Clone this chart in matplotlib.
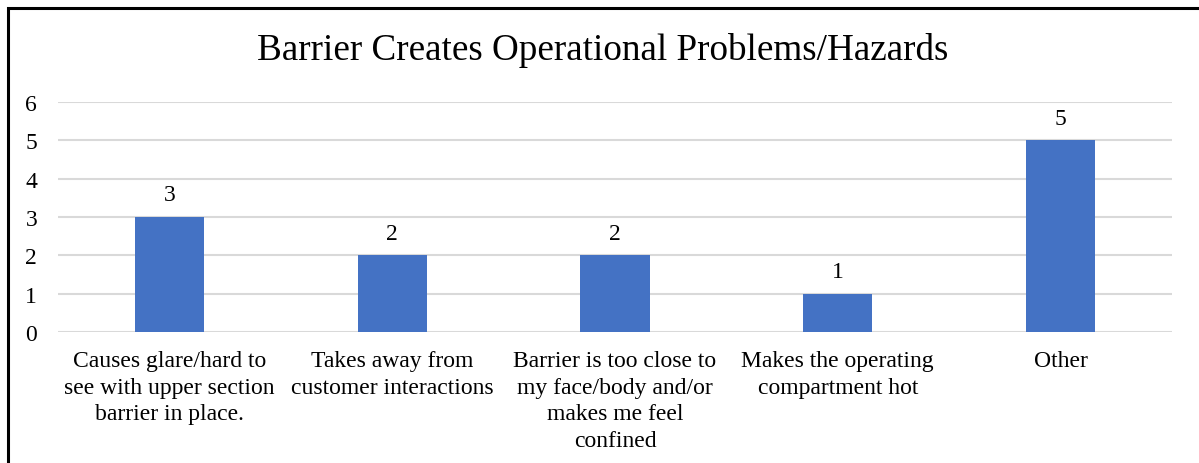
import matplotlib.pyplot as plt
from matplotlib.patches import Rectangle

CATEGORIES: list[str] = [
    "Causes glare/hard to\nsee with upper section\nbarrier in place.",
    "Takes away from\ncustomer interactions",
    "Barrier is too close to\nmy face/body and/or\nmakes me feel\nconfined",
    "Makes the operating\ncompartment hot",
    "Other",
]
COUNTS: list[int] = [3, 2, 2, 1, 5]
Y_TICKS: list[int] = [0, 1, 2, 3, 4, 5, 6]

W, H = 1199, 464
plt.rcParams["font.family"] = ["Liberation Serif", "DejaVu Serif"]

fig = plt.figure(figsize=(W / 100, H / 100), dpi=100)
ax = fig.add_axes([58 / W, 1 - 333 / H, (1172 - 58) / W, (333 - 103) / H])

x = range(len(CATEGORIES))
bars = ax.bar(x, COUNTS, width=0.31, color="#4472C4", zorder=3)
for b, v in zip(bars, COUNTS):
    ax.text(b.get_x() + b.get_width() / 2, v + 0.3, str(v),
            ha="center", va="bottom", fontsize=17, color="black")

ax.set_xlim(-0.5, len(CATEGORIES) - 0.5)
ax.set_ylim(0, 6)
ax.set_yticks(Y_TICKS)
ax.set_yticklabels([str(t) for t in Y_TICKS], fontsize=17)
ax.set_xticks(list(x))
ax.set_xticklabels(CATEGORIES, fontsize=17, linespacing=1.35, va="top")
ax.tick_params(axis="both", length=0)
ax.tick_params(axis="y", pad=15)
ax.tick_params(axis="x", pad=13)
ax.grid(axis="y", color="#D9D9D9", linewidth=1.5, zorder=0)
for s in ax.spines.values():
    s.set_visible(False)

fig.text(603 / W, 1 - 51 / H, "Barrier Creates Operational Problems/Hazards",
         ha="center", va="center", fontsize=26.7)

# outer frame, clipped by the image on the right and bottom
fig.patches.append(Rectangle((8 / W, -0.1), 1.2, 1 - 8.5 / H + 0.1,
                             transform=fig.transFigure, fill=False,
                             edgecolor="black", linewidth=2.2))

fig.savefig("out.png", dpi=100)
